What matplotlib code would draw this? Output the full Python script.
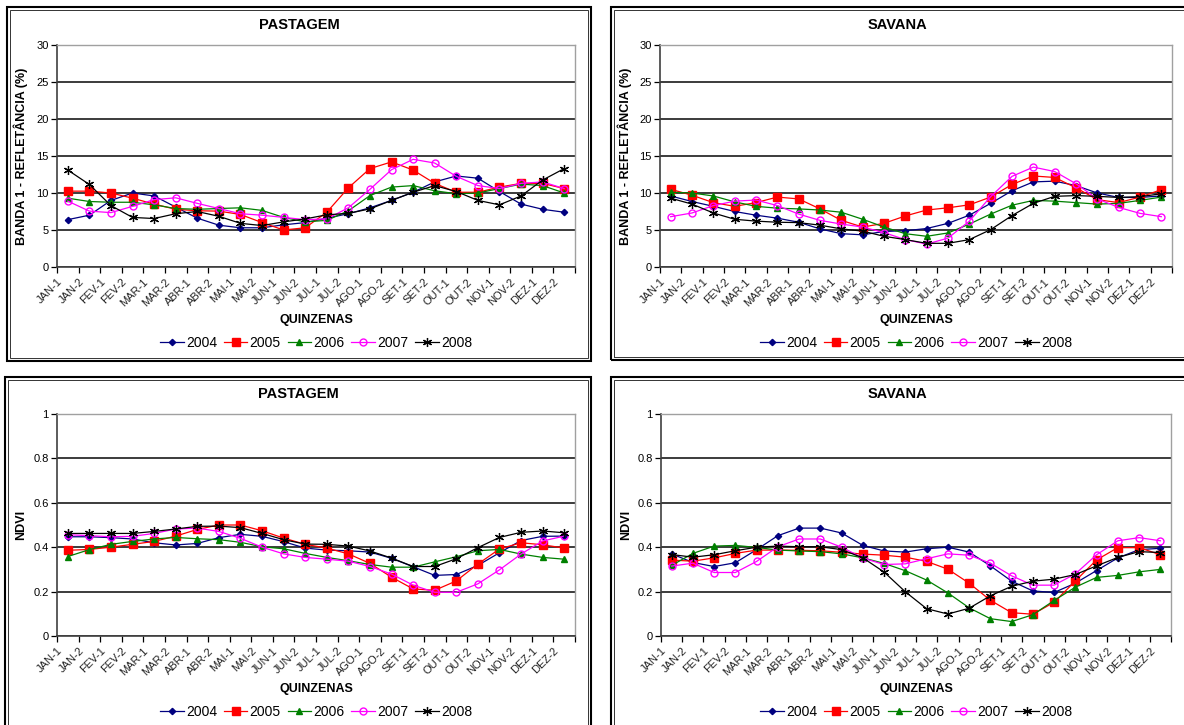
import matplotlib
matplotlib.use('Agg')
import matplotlib.pyplot as plt
from matplotlib.patches import Rectangle
from matplotlib.lines import Line2D
from matplotlib.ticker import FuncFormatter

plt.rcParams['font.family'] = ['Liberation Sans', 'DejaVu Sans']

W, H = 1184, 725

quinzenas = ['JAN-1', 'JAN-2', 'FEV-1', 'FEV-2', 'MAR-1', 'MAR-2', 'ABR-1', 'ABR-2',
             'MAI-1', 'MAI-2', 'JUN-1', 'JUN-2', 'JUL-1', 'JUL-2', 'AGO-1', 'AGO-2',
             'SET-1', 'SET-2', 'OUT-1', 'OUT-2', 'NOV-1', 'NOV-2', 'DEZ-1', 'DEZ-2']
anos = ['2004', '2005', '2006', '2007', '2008']

# Banda 1 - pastagem
b1_past_2004 = [6.4, 7.0, 9.0, 10.0, 9.6, 8.1, 6.6, 5.65, 5.3, 5.3, 5.7, 6.0,
                6.6, 7.2, 8.0, 9.0, 10.1, 11.5, 12.3, 12.0, 10.2, 8.5, 7.8, 7.4]
b1_past_2005 = [10.25, 10.25, 10.0, 9.3, 8.5, 7.8, 7.6, 7.55, 7.1, 6.0, 5.0, 5.3,
                7.4, 10.7, 13.3, 14.2, 13.1, 11.3, 10.1, 10.1, 10.8, 11.3, 11.3, 10.6]
b1_past_2006 = [9.3, 8.85, 8.75, 8.75, 8.4, 7.9, 7.8, 7.9, 8.0, 7.65, 6.7, 6.1,
                6.3, 7.6, 9.65, 10.8, 11.0, 10.3, 9.9, 10.0, 10.6, 11.2, 11.0, 10.0]
b1_past_2007 = [8.9, 7.55, 7.35, 8.2, 9.1, 9.35, 8.6, 7.9, 7.2, 7.0, 6.7, 6.4,
                6.5, 8.0, 10.5, 13.15, 14.55, 14.05, 12.25, 11.0, 10.6, 11.3, 11.5, 10.6]
b1_past_2008 = [13.1, 11.15, 8.3, 6.7, 6.55, 7.2, 7.5, 6.85, 5.9, 5.6, 6.1, 6.5,
                7.05, 7.25, 7.85, 9.0, 10.1, 11.0, 10.2, 9.0, 8.4, 9.6, 11.75, 13.3]

# Banda 1 - savana
b1_sav_2004 = [9.6, 8.85, 8.2, 7.5, 7.0, 6.6, 6.05, 5.15, 4.5, 4.35, 4.8, 4.9,
               5.2, 5.9, 7.0, 8.6, 10.3, 11.5, 11.6, 11.0, 10.0, 9.4, 9.4, 9.6]
b1_sav_2005 = [10.5, 9.7, 8.7, 8.2, 8.7, 9.45, 9.2, 7.85, 6.3, 5.4, 5.9, 6.9,
               7.7, 8.0, 8.4, 9.45, 11.15, 12.3, 12.1, 10.7, 9.1, 8.7, 9.45, 10.45]
b1_sav_2006 = [10.1, 10.0, 9.6, 8.8, 8.2, 7.95, 7.85, 7.7, 7.4, 6.45, 5.4, 4.5,
               4.15, 4.6, 5.8, 7.15, 8.35, 9.0, 8.9, 8.7, 8.5, 8.6, 9.0, 9.45]
b1_sav_2007 = [6.8, 7.3, 8.3, 8.9, 9.05, 8.3, 7.15, 6.3, 5.8, 5.4, 4.65, 3.7,
               3.1, 3.9, 6.2, 9.5, 12.25, 13.5, 12.9, 11.25, 9.2, 8.05, 7.25, 6.8]
b1_sav_2008 = [9.3, 8.5, 7.3, 6.45, 6.2, 6.05, 6.0, 5.65, 5.15, 4.85, 4.15, 3.7,
               3.2, 3.2, 3.7, 5.05, 6.95, 8.6, 9.55, 9.65, 9.55, 9.4, 9.5, 9.9]

# NDVI - pastagem
ndvi_past_2004 = [0.447, 0.447, 0.443, 0.437, 0.42, 0.41, 0.417, 0.443, 0.458, 0.449, 0.425, 0.396,
                  0.387, 0.384, 0.378, 0.35, 0.312, 0.273, 0.277, 0.318, 0.375, 0.43, 0.449, 0.45]
ndvi_past_2005 = [0.386, 0.39, 0.4, 0.413, 0.426, 0.45, 0.48, 0.5, 0.5, 0.474, 0.441, 0.413,
                  0.396, 0.37, 0.327, 0.265, 0.212, 0.206, 0.248, 0.324, 0.392, 0.42, 0.411, 0.396]
ndvi_past_2006 = [0.358, 0.389, 0.413, 0.426, 0.437, 0.444, 0.438, 0.434, 0.422, 0.402, 0.393, 0.372,
                  0.354, 0.339, 0.322, 0.31, 0.31, 0.334, 0.357, 0.384, 0.39, 0.369, 0.354, 0.346]
ndvi_past_2007 = [0.456, 0.452, 0.447, 0.449, 0.462, 0.482, 0.486, 0.471, 0.44, 0.4, 0.37, 0.354,
                  0.346, 0.337, 0.313, 0.279, 0.229, 0.197, 0.197, 0.235, 0.298, 0.369, 0.428, 0.45]
ndvi_past_2008 = [0.462, 0.462, 0.462, 0.462, 0.471, 0.482, 0.494, 0.495, 0.488, 0.462, 0.434, 0.414,
                  0.413, 0.405, 0.383, 0.351, 0.313, 0.313, 0.348, 0.398, 0.444, 0.467, 0.473, 0.465]

# NDVI - savana
ndvi_sav_2004 = [0.37, 0.331, 0.313, 0.33, 0.389, 0.452, 0.486, 0.486, 0.464, 0.408, 0.383, 0.378,
                 0.393, 0.4, 0.378, 0.316, 0.247, 0.203, 0.196, 0.238, 0.295, 0.352, 0.389, 0.395]
ndvi_sav_2005 = [0.342, 0.337, 0.352, 0.372, 0.387, 0.387, 0.386, 0.384, 0.377, 0.369, 0.364, 0.355,
                 0.336, 0.301, 0.238, 0.161, 0.105, 0.098, 0.152, 0.248, 0.343, 0.398, 0.398, 0.366]
ndvi_sav_2006 = [0.318, 0.372, 0.405, 0.408, 0.399, 0.387, 0.383, 0.38, 0.37, 0.352, 0.327, 0.294,
                 0.252, 0.194, 0.127, 0.078, 0.065, 0.096, 0.16, 0.22, 0.264, 0.273, 0.289, 0.3]
ndvi_sav_2007 = [0.315, 0.328, 0.286, 0.286, 0.336, 0.402, 0.437, 0.437, 0.4, 0.351, 0.322, 0.325,
                 0.348, 0.37, 0.364, 0.328, 0.271, 0.229, 0.229, 0.28, 0.366, 0.429, 0.443, 0.429]
ndvi_sav_2008 = [0.367, 0.355, 0.366, 0.384, 0.4, 0.405, 0.402, 0.402, 0.389, 0.352, 0.288, 0.199,
                 0.123, 0.099, 0.125, 0.181, 0.224, 0.247, 0.256, 0.277, 0.316, 0.354, 0.38, 0.376]

# Excel-like series styles
estilos = [
    dict(color='#000080', marker='D', ms=3.2, mfc='#000080', mec='#000080'),
    dict(color='#FF0000', marker='s', ms=5.5, mfc='#FF0000', mec='#FF0000'),
    dict(color='#008000', marker='^', ms=5, mfc='#008000', mec='#008000'),
    dict(color='#FF00FF', marker='o', ms=5, mfc='none', mec='#FF00FF', mew=1.0),
    dict(color='#000000', marker=(6, 2, 0), ms=6.5, mec='#000000', mew=0.9),
]

fig = plt.figure(figsize=(W / 100, H / 100), dpi=100)
fig.patch.set_facecolor('white')


def caixa(l, t, r, b):
    fig.patches.append(Rectangle((l / W, 1 - b / H), (r - l) / W, (b - t) / H,
                                 transform=fig.transFigure, fill=False,
                                 ec='black', lw=1.5, zorder=0))
    fig.patches.append(Rectangle(((l + 3) / W, 1 - (b - 3) / H), (r - l - 6) / W, (b - t - 6) / H,
                                 transform=fig.transFigure, fill=False,
                                 ec='#333333', lw=0.7, zorder=0))


def painel(area, box, titulo, ylabel, series, ymax, ystep, ylab_x):
    l, t, r, b = area
    caixa(*box)
    ax = fig.add_axes([l / W, 1 - b / H, (r - l) / W, (b - t) / H])
    x = [i + 0.5 for i in range(len(quinzenas))]
    for vals, est in zip(series, estilos):
        ax.plot(x, vals, lw=0.9, **est)
    ax.set_xlim(0, len(quinzenas))
    ax.set_ylim(0, ymax)
    yt = [ystep * k for k in range(int(round(ymax / ystep)) + 1)]
    ax.set_yticks(yt)
    ax.yaxis.set_major_formatter(FuncFormatter(lambda v, p: '%g' % round(v, 3)))
    ax.set_xticks(range(len(quinzenas) + 1))
    ax.set_xticklabels(quinzenas + [''], rotation=45, ha='right',
                       rotation_mode='anchor', fontsize=8, color='#222222')
    ax.tick_params(axis='both', direction='out', length=4, width=0.9,
                   labelsize=8, pad=2)
    ax.tick_params(axis='x', pad=3)
    ax.yaxis.grid(True, color='#1a1a1a', lw=1.2)
    ax.set_axisbelow(True)
    for s in ('top', 'right'):
        ax.spines[s].set_color('#a0a0a0')
        ax.spines[s].set_linewidth(1.0)
    for s in ('left', 'bottom'):
        ax.spines[s].set_color('#404040')
        ax.spines[s].set_linewidth(1.2)

    bl, bt, br, bb = box
    cx = (l + r) / 2
    fig.text((bl + min(br, W)) / 2 / W, 1 - (t - 20) / H, titulo, ha='center',
             va='center', fontsize=10.5, fontweight='bold')
    fig.text(ylab_x / W, 1 - (t + b) / 2 / H, ylabel, rotation=90, ha='center',
             va='center', fontsize=9, fontweight='bold')
    fig.text(cx / W, 1 - (b + 53) / H, 'QUINZENAS', ha='center', va='center',
             fontsize=9, fontweight='bold')
    handles = [Line2D([], [], lw=0.9, **est) for est in estilos]
    fig.legend(handles, anos, loc='center', bbox_to_anchor=(cx / W, 1 - (b + 76) / H),
               ncol=5, frameon=False, fontsize=10, handlelength=1.7,
               handletextpad=0.15, columnspacing=0.5, borderaxespad=0)
    return ax


painel((57, 45, 575, 267), (7, 7, 591, 361), 'PASTAGEM',
       'BANDA 1 - REFLETÂNCIA (%)',
       [b1_past_2004, b1_past_2005, b1_past_2006, b1_past_2007, b1_past_2008],
       30, 5, 21)
painel((660, 45, 1172, 267), (611, 7, 1195, 360), 'SAVANA',
       'BANDA 1 - REFLETÂNCIA (%)',
       [b1_sav_2004, b1_sav_2005, b1_sav_2006, b1_sav_2007, b1_sav_2008],
       30, 5, 625)
painel((57, 414, 575, 636), (5, 377, 591, 740), 'PASTAGEM', 'NDVI',
       [ndvi_past_2004, ndvi_past_2005, ndvi_past_2006, ndvi_past_2007, ndvi_past_2008],
       1, 0.2, 21)
painel((661, 414, 1171, 636), (611, 377, 1195, 740), 'SAVANA', 'NDVI',
       [ndvi_sav_2004, ndvi_sav_2005, ndvi_sav_2006, ndvi_sav_2007, ndvi_sav_2008],
       1, 0.2, 626)

fig.savefig('out.png', dpi=100)
